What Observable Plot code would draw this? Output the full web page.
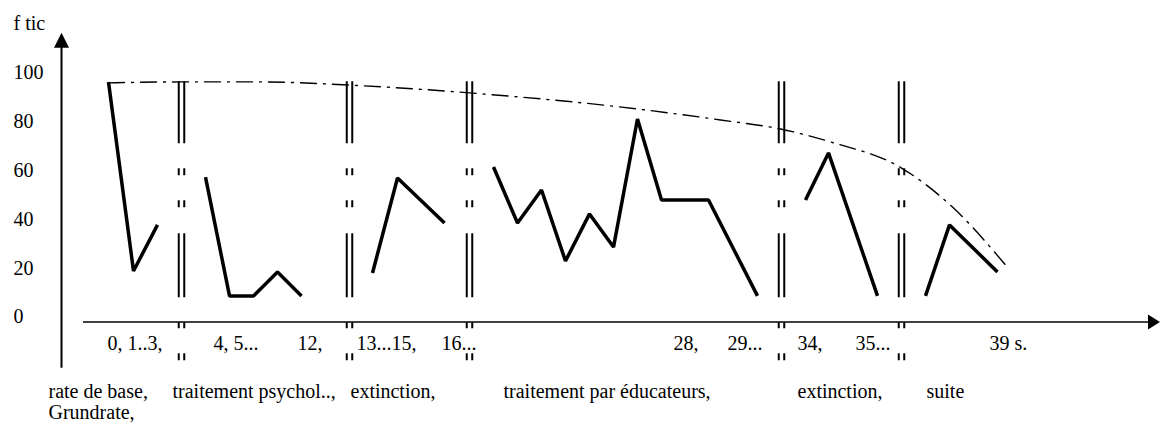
<!DOCTYPE html>
<html>
<head>
<meta charset="utf-8">
<script src="https://cdn.jsdelivr.net/npm/d3@7"></script>
<script src="https://cdn.jsdelivr.net/npm/@observablehq/plot@0.6"></script>
<style>
  html, body { margin: 0; padding: 0; background: #fff; }
  #chart svg { display: block; font-family: "Liberation Serif", serif !important; }
  #chart svg text { font-family: "Liberation Serif", serif !important; }
</style>
</head>
<body>
<div id="chart"></div>
<script>
// ---- data (x in drawing units along the time axis, y in "f tic") ----
const phaseNames = ["rate de base", "traitement psychol", "extinction 1", "traitement par éducateurs", "extinction 2", "suite"];

const baseX  = [4.7, 7.2, 9.6];
const baseY  = [98.4, 20.9, 39.8];
const psyX   = [14.4, 16.8, 19.2, 21.6, 24.0];
const psyY   = [59.4, 10.7, 10.7, 20.5, 10.7];
const ext1X  = [31.1, 33.6, 38.3];
const ext1Y  = [20.1, 59.0, 40.6];
const eduX   = [43.2, 45.6, 48.0, 50.4, 52.8, 55.2, 57.6, 60.0, 64.7, 69.6];
const eduY   = [63.5, 40.6, 54.1, 25.0, 44.3, 30.7, 83.2, 50.0, 50.0, 10.7];
const ext2X  = [74.4, 76.7, 81.6];
const ext2Y  = [50.0, 69.3, 10.7];
const suiteX = [86.4, 88.8, 93.6];
const suiteY = [10.7, 39.8, 20.5];

const trendX = [4.7, 12.0, 19.9, 28.8, 40.8, 57.6, 65.9, 71.9, 76.9, 84.0, 89.1, 94.4];
const trendY = [98.0, 98.4, 98.4, 97.1, 93.9, 87.3, 82.8, 79.1, 73.8, 63.1, 47.1, 23.4];

const separatorX = [12.0, 28.8, 40.8, 72.0, 84.0];
const sepTop = 98.5, sepBottom = -16;

const yTicks = [100, 80, 60, 40, 20, 0];
const xTickLabels = ["0, 1..3,", "4, 5...", "12,", "13...15,", "16...", "28,", "29...", "34,", "35...", "39 s."];
const xTickAt     = [4.6, 15.2, 23.6, 29.5, 38.0, 61.2, 66.6, 73.6, 79.4, 92.8];
const phaseLabels  = ["rate de base,\nGrundrate,", "traitement psychol..,", "extinction,", "traitement par éducateurs,", "extinction,", "suite"];
const phaseLabelAt = [-1.3, 11.1, 28.9, 44.2, 73.6, 86.5];
const yTitle = "f tic";

// ---- build table ----
const phaseXs = [baseX, psyX, ext1X, eduX, ext2X, suiteX];
const phaseYs = [baseY, psyY, ext1Y, eduY, ext2Y, suiteY];
const points = phaseNames.flatMap((p, i) => phaseXs[i].map((x, j) => ({phase: p, x, y: phaseYs[i][j]})));
const trend = trendX.map((x, i) => ({x, y: trendY[i]}));

const arrowUp = {draw(ctx) { ctx.moveTo(0, 0); ctx.lineTo(-7.5, 15); ctx.lineTo(7.5, 15); ctx.closePath(); }};
const arrowRight = {draw(ctx) { ctx.moveTo(0, 0); ctx.lineTo(-12, -7.5); ctx.lineTo(-12, 7.5); ctx.closePath(); }};

const sepDash = "62,25,7,25,7,26,64,25,6,25,7,100";
const serif = "'Liberation Serif', serif";

const chart = Plot.plot({
  width: 1160,
  height: 423,
  marginLeft: 61,
  marginRight: 0,
  marginTop: 77.5,
  marginBottom: 101.5,
  x: {domain: [0, 109.9], axis: null},
  y: {domain: [0, 100], axis: null},
  style: {fontFamily: serif, fontSize: "20px", color: "black", background: "white"},
  marks: [
    // axes
    Plot.ruleX([0], {y1: -19, y2: 113, stroke: "black", strokeWidth: 2}),
    Plot.dot([{x: 0, y: 118.5}], {x: "x", y: "y", symbol: arrowUp, fill: "black", stroke: "none", r: 5}),
    Plot.ruleY([0], {x1: 2.2, x2: 109, stroke: "black", strokeWidth: 1.6}),
    Plot.dot([{x: 109.85, y: 0}], {x: "x", y: "y", symbol: arrowRight, fill: "black", stroke: "none", r: 5}),
    // phase separators (double broken lines)
    Plot.ruleX(separatorX, {x: d => d, y1: sepTop, y2: sepBottom, dx: -2.75, stroke: "black", strokeWidth: 2, strokeDasharray: sepDash}),
    Plot.ruleX(separatorX, {x: d => d, y1: sepTop, y2: sepBottom, dx: 2.75, stroke: "black", strokeWidth: 2, strokeDasharray: sepDash}),
    // trend curve
    Plot.line(trend, {x: "x", y: "y", curve: "monotone-x", stroke: "black", strokeWidth: 1.4, strokeDasharray: "16,7,2,7"}),
    // data
    Plot.line(points, {x: "x", y: "y", z: "phase", stroke: "black", strokeWidth: 3.5, strokeLinejoin: "miter", strokeLinecap: "butt"}),
    // texts
    Plot.text([yTitle], {x: -4.8, y: 122.3, text: d => d, textAnchor: "start", fontSize: 20, fontFamily: serif}),
    Plot.text(yTicks, {x: -4.8, y: d => d, text: d => String(d), textAnchor: "start", dy: -5, fontSize: 20, fontFamily: serif}),
    Plot.text(xTickLabels, {x: (d, i) => xTickAt[i], y: -8.9, text: d => d, textAnchor: "start", fontSize: 20, fontFamily: serif}),
    Plot.text(phaseLabels, {x: (d, i) => phaseLabelAt[i], y: -25.2, text: d => d, textAnchor: "start", lineAnchor: "top", lineHeight: 1.05, fontSize: 20, fontFamily: serif})
  ]
});
document.getElementById("chart").append(chart);
</script>
</body>
</html>
